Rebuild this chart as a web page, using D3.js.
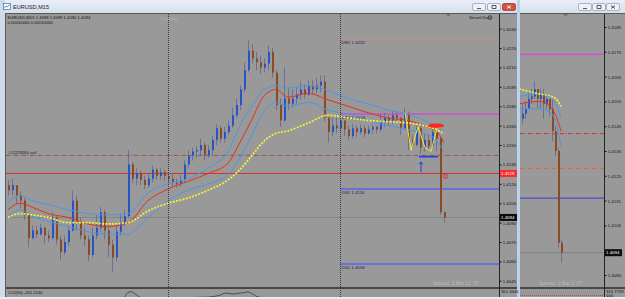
<!DOCTYPE html>
<html>
<head>
<meta charset="utf-8">
<title>EURUSD,M15</title>
<script src="https://cdn.jsdelivr.net/npm/d3@7/dist/d3.min.js"></script>
<style>
  body { margin: 0; background: #ffffff; }
  svg { display: block; }
</style>
</head>
<body>
<script>
// ---- main window: EURUSD M15 candles (open = previous close) ----
var firstOpen = 1.4119;
var closes = [
  1.4115, 1.4119, 1.4111, 1.4107, 1.4096, 1.4078, 1.4084, 1.4081, 1.4086, 1.4080,
  1.4078, 1.4094, 1.4077, 1.4067, 1.4075, 1.4084, 1.4107, 1.4090, 1.4080, 1.4077,
  1.4065, 1.4080, 1.4086, 1.4098, 1.4084, 1.4073, 1.4063, 1.4083, 1.4090, 1.4095,
  1.4135, 1.4124, 1.4128, 1.4123, 1.4119, 1.4124, 1.4131, 1.4126, 1.4129, 1.4126,
  1.4124, 1.4121, 1.4120, 1.4123, 1.4135, 1.4142, 1.4145, 1.4146, 1.4150, 1.4142,
  1.4146, 1.4154, 1.4163, 1.4155, 1.4160, 1.4165, 1.4173, 1.4181, 1.4193, 1.4208,
  1.4223, 1.4217, 1.4214, 1.4210, 1.4213, 1.4222, 1.4206, 1.4181, 1.4169, 1.4186,
  1.4182, 1.4186, 1.4189, 1.4193, 1.4189, 1.4196, 1.4193, 1.4196, 1.4199, 1.4171,
  1.4160, 1.4165, 1.4163, 1.4169, 1.4162, 1.4157, 1.4163, 1.4160, 1.4163, 1.4159,
  1.4162, 1.4164, 1.4162, 1.4168, 1.4171, 1.4169, 1.4173, 1.4171, 1.4163, 1.4174,
  1.4154, 1.4150, 1.4163, 1.4148, 1.4154, 1.4149, 1.4160, 1.4155, 1.4098, 1.4094
];
var highs = [
  1.4123, 1.4124, 1.4119, 1.4114, 1.4109, 1.4098, 1.4088, 1.4087, 1.4089, 1.4087,
  1.4084, 1.4098, 1.4095, 1.4080, 1.4080, 1.4087, 1.4115, 1.4111, 1.4094, 1.4086,
  1.4080, 1.4086, 1.4096, 1.4102, 1.4100, 1.4088, 1.4077, 1.4087, 1.4097, 1.4100,
  1.4146, 1.4137, 1.4132, 1.4130, 1.4126, 1.4128, 1.4134, 1.4132, 1.4132, 1.4131,
  1.4129, 1.4128, 1.4124, 1.4127, 1.4138, 1.4146, 1.4148, 1.4149, 1.4155, 1.4152,
  1.4150, 1.4157, 1.4166, 1.4165, 1.4164, 1.4169, 1.4179, 1.4186, 1.4196, 1.4214,
  1.4231, 1.4228, 1.4222, 1.4219, 1.4217, 1.4227, 1.4225, 1.4208, 1.4186, 1.4210,
  1.4194, 1.4193, 1.4195, 1.4199, 1.4197, 1.4200, 1.4200, 1.4202, 1.4204, 1.4204,
  1.4173, 1.4171, 1.4171, 1.4172, 1.4169, 1.4165, 1.4166, 1.4165, 1.4166, 1.4165,
  1.4165, 1.4166, 1.4165, 1.4174, 1.4175, 1.4173, 1.4177, 1.4176, 1.4172, 1.4179,
  1.4176, 1.4158, 1.4167, 1.4165, 1.4159, 1.4158, 1.4164, 1.4163, 1.4157, 1.4099
];
var lows = [
  1.4111, 1.4111, 1.4104, 1.4101, 1.4092, 1.4071, 1.4077, 1.4078, 1.4080, 1.4074,
  1.4075, 1.4077, 1.4073, 1.4061, 1.4065, 1.4072, 1.4083, 1.4084, 1.4077, 1.4072,
  1.4060, 1.4063, 1.4077, 1.4083, 1.4077, 1.4063, 1.4052, 1.4060, 1.4080, 1.4087,
  1.4094, 1.4121, 1.4119, 1.4119, 1.4116, 1.4117, 1.4121, 1.4123, 1.4123, 1.4122,
  1.4121, 1.4118, 1.4117, 1.4118, 1.4121, 1.4132, 1.4138, 1.4140, 1.4142, 1.4138,
  1.4140, 1.4142, 1.4150, 1.4152, 1.4152, 1.4158, 1.4163, 1.4171, 1.4177, 1.4191,
  1.4206, 1.4213, 1.4208, 1.4205, 1.4206, 1.4208, 1.4202, 1.4177, 1.4164, 1.4168,
  1.4177, 1.4179, 1.4182, 1.4185, 1.4186, 1.4188, 1.4189, 1.4190, 1.4191, 1.4168,
  1.4152, 1.4157, 1.4159, 1.4160, 1.4157, 1.4154, 1.4155, 1.4156, 1.4158, 1.4156,
  1.4158, 1.4159, 1.4159, 1.4160, 1.4164, 1.4165, 1.4166, 1.4168, 1.4158, 1.4162,
  1.4146, 1.4148, 1.4149, 1.4143, 1.4145, 1.4146, 1.4148, 1.4145, 1.4096, 1.4090
];

var maIdx = [0, 3, 6, 10, 15, 20, 25, 30, 35, 40, 45, 50, 55, 58, 61, 64, 67, 70, 75, 80, 85, 90, 95, 100, 104, 107, 109];
var maSlow = [1.4094, 1.4097, 1.4096, 1.4094, 1.4090, 1.4090, 1.4089, 1.4090, 1.4099, 1.4105, 1.4109, 1.4115, 1.4123, 1.4131,
  1.4142, 1.4153, 1.4159, 1.4161, 1.4167, 1.4173, 1.4171, 1.4169, 1.4168, 1.4167, 1.4165, 1.4162, 1.4159];
var maMid = [1.4100, 1.4105, 1.4102, 1.4097, 1.4094, 1.4089, 1.4087, 1.4090, 1.4107, 1.4116, 1.4122, 1.4128, 1.4136, 1.4152,
  1.4170, 1.4188, 1.4193, 1.4187, 1.4190, 1.4185, 1.4180, 1.4175, 1.4171, 1.4169, 1.4165, 1.4161, 1.4152];
var bandUp = [1.4105, 1.4111, 1.4107, 1.4104, 1.4100, 1.4097, 1.4096, 1.4097, 1.4113, 1.4120, 1.4124, 1.4132, 1.4145, 1.4165,
  1.4180, 1.4193, 1.4196, 1.4194, 1.4196, 1.4192, 1.4186, 1.4182, 1.4177, 1.4174, 1.4169, 1.4165, 1.4160];
var bandLow = [1.4094, 1.4100, 1.4095, 1.4091, 1.4087, 1.4083, 1.4081, 1.4081, 1.4094, 1.4107, 1.4115, 1.4120, 1.4127, 1.4140,
  1.4158, 1.4176, 1.4183, 1.4180, 1.4183, 1.4177, 1.4174, 1.4169, 1.4165, 1.4162, 1.4159, 1.4154, 1.4145];

// price scale labels
var mainTicks = [1.4240, 1.4225, 1.4210, 1.4195, 1.4180, 1.4165, 1.4150, 1.4135, 1.4120, 1.4105, 1.4090, 1.4075, 1.4060, 1.4045];

// daily pivots and order lines
var pivotNames = ["DR1", "DPV", "DS1", "DS2"];
var pivotValues = [1.4232, 1.4174, 1.4116, 1.4058];
var sellLevel = 1.4142;
var alertLevel = 1.4128;
var bidPrice = 1.4094;

// period separators (bar index)
var separatorIdx = [40, 83];

// hand drawn zigzag and marks
var zigIdx = [99.25, 100.75, 102.5, 104.25, 105.75, 107.25, 108.25];
var zigVals = [1.4175, 1.4146, 1.4164, 1.4148, 1.4145, 1.4163, 1.4164];

// CCI(50) subwindow
var cciIdx = [0, 10, 20, 28, 29, 30, 31, 32, 33, 40, 50, 52, 53, 54, 55, 56, 57, 58, 59, 60, 61, 62, 63, 70, 80, 90, 100, 109];
var cciVals = [-60, -120, -150, -20, 40, 200, 220, 130, 40, 20, 50, 80, 110, 170, 170, 146, 160, 175, 190, 215, 160, 80, 40,
  -20, -120, -40, -30, -201.2140];

// ---- second window ----
var firstOpen2 = 1.4148;
var closes2 = [1.4150, 1.4152, 1.4156, 1.4157, 1.4160, 1.4156, 1.4158, 1.4154, 1.4156, 1.4152, 1.4143, 1.4135, 1.4098, 1.4094];
var highs2 = [1.4154, 1.4155, 1.4159, 1.4160, 1.4163, 1.4160, 1.4160, 1.4160, 1.4157, 1.4156, 1.4156, 1.4145, 1.4136, 1.4099];
var lows2 = [1.4146, 1.4148, 1.4152, 1.4154, 1.4156, 1.4152, 1.4152, 1.4148, 1.4152, 1.4149, 1.4139, 1.4133, 1.4096, 1.4090];
var maIdx2 = [-1, 6, 10, 12, 13];
var maSlow2 = [1.4160, 1.4158, 1.4157, 1.4155, 1.4153];
var maMid2 = [1.4154, 1.4155, 1.4152, 1.4147, 1.4143];
var bandUp2 = [1.4157, 1.4158, 1.4156, 1.4152, 1.4148];
var bandLow2 = [1.4152, 1.4152, 1.4150, 1.4143, 1.4137];
var ticks2 = [1.4185, 1.4175, 1.4165, 1.4155, 1.4145, 1.4135, 1.4125, 1.4115, 1.4105, 1.4085];

var FONT = "'Liberation Sans', Arial, sans-serif";
var W = 625, H = 299;

var svg = d3.select("body").append("svg")
  .attr("width", W)
  .attr("height", H)
  .attr("font-family", FONT);

var defs = svg.append("defs");
var grad = defs.append("linearGradient").attr("id", "titleGrad")
  .attr("x1", 0).attr("y1", 0).attr("x2", 0).attr("y2", 1);
grad.append("stop").attr("offset", "0%").attr("stop-color", "#e8eff8");
grad.append("stop").attr("offset", "100%").attr("stop-color", "#d3dfec");

defs.append("clipPath").attr("id", "clipMain")
  .append("rect").attr("x", 6).attr("y", 14).attr("width", 493).attr("height", 273);
defs.append("clipPath").attr("id", "clipCci")
  .append("rect").attr("x", 6).attr("y", 289).attr("width", 493).attr("height", 8);
defs.append("clipPath").attr("id", "clip2")
  .append("rect").attr("x", 520).attr("y", 14).attr("width", 84).attr("height", 273);

// window frames and title bars
svg.append("rect").attr("width", W).attr("height", H).attr("fill", "#e4ebf3");
svg.append("rect").attr("width", W).attr("height", 14).attr("fill", "url(#titleGrad)");
svg.append("rect").attr("x", 0).attr("y", 0).attr("width", 5).attr("height", H).attr("fill", "#cfdbe8");
svg.append("rect").attr("x", 517).attr("y", 0).attr("width", 3).attr("height", H).attr("fill", "#bcd2ea");

// chart backgrounds
svg.append("rect").attr("x", 6).attr("y", 14).attr("width", 511).attr("height", 283).attr("fill", "#999999");
svg.append("rect").attr("x", 520).attr("y", 14).attr("width", 105).attr("height", 283).attr("fill", "#999999");
svg.append("line").attr("x1", 5.5).attr("x2", 5.5).attr("y1", 13).attr("y2", 297).attr("stroke", "#5a5a5a");
svg.append("line").attr("x1", 5).attr("x2", 517).attr("y1", 13.5).attr("y2", 13.5).attr("stroke", "#5a5a5a");
svg.append("line").attr("x1", 520).attr("x2", 625).attr("y1", 13.5).attr("y2", 13.5).attr("stroke", "#5a5a5a");

// title bar contents
svg.append("rect").attr("x", 3.5).attr("y", 3.5).attr("width", 7).attr("height", 6)
  .attr("fill", "#ffffff").attr("stroke", "#4f78b4").attr("stroke-width", 0.8);
svg.append("path").attr("d", "M4.5,8 L6,6 L7.5,7 L9.5,4.5").attr("fill", "none")
  .attr("stroke", "#2d6bd0").attr("stroke-width", 0.8);
svg.append("text").attr("x", 13).attr("y", 9.2).attr("font-size", 5.6).attr("fill", "#1a1a1a").text("EURUSD,M15");

function titleButtons(xs, closeRed) {
  xs.forEach(function (x, k) {
    var red = closeRed && k === 2;
    svg.append("rect").attr("x", x + 0.5).attr("y", 3.5).attr("width", 13).attr("height", 7).attr("rx", 1.5)
      .attr("fill", red ? "#d4503f" : "#eef2f7").attr("stroke", red ? "#8e3328" : "#8a99ab").attr("stroke-width", 0.7);
    var cx = x + 7, cy = 7;
    var mark = k === 0 ? `M${cx - 2},${cy + 1.5} h4` :
      k === 1 ? `M${cx - 2},${cy - 1.5} h4 v3 h-4 z` :
      `M${cx - 2},${cy - 1.5} l4,3 M${cx + 2},${cy - 1.5} l-4,3`;
    svg.append("path").attr("d", mark).attr("fill", "none")
      .attr("stroke", red ? "#ffffff" : "#3b4654").attr("stroke-width", 0.9);
  });
}
titleButtons([472, 487, 502], true);
titleButtons([578, 592, 606], false);

// ---- scales ----
var xMain = d3.scaleLinear().domain([0, 109]).range([8, 444]);
var yMain = d3.scaleLinear().domain([1.4058, 1.4232]).range([264, 39]);
var yCci = d3.scaleLinear().domain([100, 301.3446]).range([295.5, 289]);
var x2 = d3.scaleLinear().domain([0, 13]).range([522, 561]);
var y2 = d3.scaleLinear().domain([1.4085, 1.4185]).range([275, 27]);

function makeCandles(open0, c, h, l) {
  return c.map(function (d, i) {
    return { i: i, open: i === 0 ? open0 : c[i - 1], close: d, high: h[i], low: l[i] };
  });
}

function drawCandles(g, data, x, y, bw) {
  g.selectAll(null).data(data).enter().append("line")
    .attr("x1", d => Math.round(x(d.i)) + 0.5)
    .attr("x2", d => Math.round(x(d.i)) + 0.5)
    .attr("y1", d => y(d.high))
    .attr("y2", d => y(d.low))
    .attr("stroke", "#6f6f96")
    .attr("stroke-width", 1);
  g.selectAll(null).data(data).enter().append("rect")
    .attr("x", d => Math.round(x(d.i)) - Math.floor((bw - 1) / 2))
    .attr("y", d => y(Math.max(d.open, d.close)))
    .attr("width", bw)
    .attr("height", d => Math.max(1, Math.abs(y(d.open) - y(d.close))))
    .attr("fill", d => d.close >= d.open ? "#2454c8" : "#8b4b22");
}

function drawLine(g, idx, vals, x, y, color, width, dash) {
  var line = d3.line().x(d => x(d[0])).y(d => y(d[1])).curve(d3.curveMonotoneX);
  g.append("path").datum(d3.zip(idx, vals))
    .attr("d", line)
    .attr("fill", "none")
    .attr("stroke", color)
    .attr("stroke-width", width)
    .attr("stroke-dasharray", dash || null);
}

function hLevel(g, x1, x2, y, color, width, dash) {
  g.append("line")
    .attr("x1", x1).attr("x2", x2)
    .attr("y1", y).attr("y2", y)
    .attr("stroke", color)
    .attr("stroke-width", width)
    .attr("stroke-dasharray", dash || null);
}

// ---- main chart ----
var mainG = svg.append("g").attr("clip-path", "url(#clipMain)");

// separators through price + cci panes
separatorIdx.forEach(function (s) {
  svg.append("line")
    .attr("x1", Math.round(xMain(s)) + 0.5).attr("x2", Math.round(xMain(s)) + 0.5)
    .attr("y1", 14).attr("y2", 297)
    .attr("stroke", "#3a3a3a").attr("stroke-dasharray", "1,1");
});

svg.append("text").attr("x", 160).attr("y", 19.5).attr("font-size", 4.2).attr("fill", "#b3b3b3").text("Thursday");

// full width order / alert / bid lines
hLevel(mainG, 6, 499, yMain(sellLevel), "#9c4b4b", 1, "4,1.5,1,1.5");
hLevel(mainG, 6, 499, yMain(alertLevel), "#d83030", 1);
hLevel(mainG, 6, 499, yMain(bidPrice), "#858585", 1);

// pivots start at the last separator
var pivotColors = ["#d98787", "#cc4fcc", "#6e6ed8", "#6e6ed8"];
var pivotWidths = [1, 1.5, 2, 2];
var pivotX = xMain(separatorIdx[1]);
pivotValues.forEach(function (p, k) {
  hLevel(mainG, pivotX, 499, yMain(p), pivotColors[k], pivotWidths[k]);
  mainG.append("text")
    .attr("x", pivotX + 1.5)
    .attr("y", yMain(p) + 5)
    .attr("font-size", 4.4)
    .attr("fill", "#20205a")
    .text(pivotNames[k] + "  " + d3.format(".4f")(p));
});

svg.append("text").attr("x", 8).attr("y", yMain(sellLevel) - 1.5).attr("font-size", 4.2)
  .attr("fill", "#222").text("#12229260 sell");

drawCandles(mainG, makeCandles(firstOpen, closes, highs, lows), xMain, yMain, 2);

drawLine(mainG, maIdx, bandUp, xMain, yMain, "#4f95e6", 1);
drawLine(mainG, maIdx, bandLow, xMain, yMain, "#4f95e6", 1);
drawLine(mainG, maIdx, maMid, xMain, yMain, "#e2311e", 1);
drawLine(mainG, maIdx, maSlow, xMain, yMain, "#f4f23a", 1.7, "2,1.3");

// zigzag, neckline, arrow and ellipse
mainG.append("path").datum(d3.zip(zigIdx, zigVals))
  .attr("d", d3.line().x(d => xMain(d[0])).y(d => yMain(d[1])))
  .attr("fill", "none").attr("stroke", "#f2e43a").attr("stroke-width", 1);
mainG.append("line")
  .attr("x1", xMain(102.75)).attr("x2", xMain(107.5))
  .attr("y1", yMain(1.4141)).attr("y2", yMain(1.4141))
  .attr("stroke", "#1f3fe6").attr("stroke-width", 1.6);
var ax0 = xMain(103.25);
mainG.append("path")
  .attr("d", `M${ax0},${yMain(1.4129)} V${yMain(1.4137)} M${ax0 - 1.8},${yMain(1.4135)} L${ax0},${yMain(1.4137)} L${ax0 + 1.8},${yMain(1.4135)}`)
  .attr("fill", "none").attr("stroke", "#1f3fe6").attr("stroke-width", 1);
mainG.append("ellipse")
  .attr("cx", xMain(107)).attr("cy", yMain(1.4165)).attr("rx", 8).attr("ry", 2.2)
  .attr("fill", "#ff2424");
mainG.append("rect")
  .attr("x", xMain(109)).attr("y", yMain(1.4126) - 2).attr("width", 3).attr("height", 4)
  .attr("fill", "none").attr("stroke", "#e02020").attr("stroke-width", 0.8);

// chart shift marker
svg.append("path").attr("d", "M446,14 h5 l-2.5,2.5 z").attr("fill", "#6f6f6f");

// header texts
svg.append("text").attr("x", 7.5).attr("y", 19).attr("font-size", 4.2).attr("fill", "#111")
  .text("EURUSD,M15  1.4098 1.4099 1.4090 1.4094");
svg.append("text").attr("x", 7.5).attr("y", 24).attr("font-size", 4.2).attr("fill", "#111")
  .text("0.00010000 0.00010000");
svg.append("text").attr("x", 469).attr("y", 19.2).attr("font-size", 4.3).attr("fill", "#222").text("SmartChart");
svg.append("circle").attr("cx", 490).attr("cy", 17.6).attr("r", 1.9)
  .attr("fill", "none").attr("stroke", "#222").attr("stroke-width", 0.7);

svg.append("text").attr("x", 433).attr("y", 284.5).attr("font-size", 5).attr("fill", "#b9b9b9")
  .text("Spread: 2    Bar  12 :57");

// ---- CCI pane ----
svg.append("rect").attr("x", 6).attr("y", 287).attr("width", 511).attr("height", 2).attr("fill", "#474747");
var cciG = svg.append("g").attr("clip-path", "url(#clipCci)");
cciG.append("path").datum(d3.zip(cciIdx, cciVals))
  .attr("d", d3.line().x(d => xMain(d[0])).y(d => yCci(d[1])))
  .attr("fill", "none").attr("stroke", "#3c3c3c").attr("stroke-width", 0.8);
svg.append("text").attr("x", 8).attr("y", 294).attr("font-size", 4.2).attr("fill", "#111")
  .text("CCI(50) -201.2140");
svg.append("text").attr("x", 501).attr("y", 293).attr("font-size", 4.2).attr("fill", "#111").text("301.3446");

// ---- price axes ----
function priceAxis(x0, scale, ticks, top) {
  svg.append("line").attr("x1", x0 + 0.5).attr("x2", x0 + 0.5).attr("y1", top).attr("y2", 297)
    .attr("stroke", "#222");
  var ax = svg.append("g")
    .attr("transform", `translate(${x0 + 0.5},0)`)
    .call(d3.axisRight(scale).tickValues(ticks).tickFormat(d3.format(".4f")).tickSize(2).tickPadding(1.2));
  ax.attr("font-size", 4.4).attr("font-family", FONT);
  ax.select(".domain").remove();
  ax.selectAll("line").attr("stroke", "#111");
  ax.selectAll("text").attr("fill", "#111");
}

function priceTag(x0, y, txt, bg, fg) {
  svg.append("rect").attr("x", x0 + 1).attr("y", y - 3.5).attr("width", 17).attr("height", 7).attr("fill", bg);
  svg.append("text").attr("x", x0 + 2).attr("y", y).attr("dy", "0.35em")
    .attr("font-size", 4.4).attr("fill", fg).text(txt);
}

priceAxis(499, yMain, mainTicks, 14);
priceTag(499, yMain(alertLevel), d3.format(".4f")(alertLevel), "#ff2a2a", "#ffffff");
priceTag(499, yMain(bidPrice), d3.format(".4f")(bidPrice), "#0d0d0d", "#ffffff");

// ---- second window ----
var g2 = svg.append("g").attr("clip-path", "url(#clip2)");
hLevel(g2, 520, 604, y2(pivotValues[1]), "#e43ee4", 1.2);
hLevel(g2, 520, 604, y2(sellLevel), "#c83434", 1, "4,1.5,1,1.5");
hLevel(g2, 520, 604, y2(alertLevel), "#f0621e", 1, "4,1.5,1,1.5");
hLevel(g2, 520, 604, y2(pivotValues[2]), "#3c3ce0", 1);
hLevel(g2, 520, 604, y2(bidPrice), "#828282", 1);

drawCandles(g2, makeCandles(firstOpen2, closes2, highs2, lows2), x2, y2, 2);
drawLine(g2, maIdx2, bandUp2, x2, y2, "#4f95e6", 1);
drawLine(g2, maIdx2, bandLow2, x2, y2, "#4f95e6", 1);
drawLine(g2, maIdx2, maMid2, x2, y2, "#e2311e", 1);
drawLine(g2, maIdx2, maSlow2, x2, y2, "#f4f23a", 1.7, "2,1.3");

svg.append("path").attr("d", "M563,14 h5 l-2.5,2.5 z").attr("fill", "#6f6f6f");
svg.append("text").attr("x", 539).attr("y", 284.5).attr("font-size", 5).attr("fill", "#b9b9b9")
  .text("Spread: 2    Bar  2 :57");

svg.append("rect").attr("x", 520).attr("y", 287).attr("width", 105).attr("height", 2).attr("fill", "#474747");
svg.append("line").attr("x1", 520).attr("x2", 604).attr("y1", 295.5).attr("y2", 295.5)
  .attr("stroke", "#c83434").attr("stroke-width", 0.8).attr("stroke-dasharray", "1,1");
svg.append("text").attr("x", 606).attr("y", 292.5).attr("font-size", 4.2).attr("fill", "#111").text("316.7759");
svg.append("text").attr("x", 606).attr("y", 297).attr("font-size", 4.2).attr("fill", "#111").text("100");

priceAxis(604, y2, ticks2, 14);
priceTag(604, y2(bidPrice), d3.format(".4f")(bidPrice), "#0d0d0d", "#ffffff");

// bottom edge
svg.append("rect").attr("x", 0).attr("y", 297).attr("width", W).attr("height", 2).attr("fill", "#e9eef4");
</script>
</body>
</html>
